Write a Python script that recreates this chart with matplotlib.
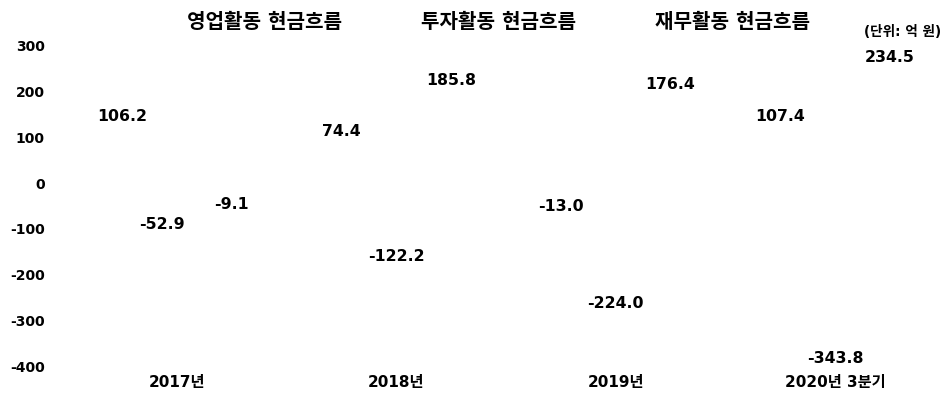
import numpy as np
import matplotlib
matplotlib.use('Agg')
import matplotlib.pyplot as plt

# DejaVu for digits (Verdana-like), Noto CJK for the Hangul
plt.rcParams['font.family'] = ['DejaVu Sans', 'Noto Sans CJK KR']
plt.rcParams['font.weight'] = 'bold'

# data (unit: 억 원)
categories = ['2017년', '2018년', '2019년', '2020년 3분기']
series_names = ['영업활동 현금흐름', '투자활동 현금흐름', '재무활동 현금흐름']
operating = [106.2, 74.4, -13.0, 107.4]
investing = [-52.9, -122.2, -224.0, -343.8]
financing = [-9.1, 185.8, 176.4, 234.5]
yticks = [300, 200, 100, 0, -100, -200, -300, -400]

fig = plt.figure(figsize=(9.49, 4.04), dpi=100)
ax = fig.add_axes([0.0706, 0.0916, 0.925, 0.797])

x = np.arange(len(categories))
w = 0.25
for i, vals in enumerate([operating, investing, financing]):
    b = ax.bar(x + (i - 1) * w, vals, w, color='white', label=series_names[i])
    anns = ax.bar_label(b, labels=[f'{v:.1f}' for v in vals], padding=7,
                        fontsize=11.3, fontweight='bold')
    if i == 1:
        # the first investing label sits a bit left of its bar in the original
        ox, oy = anns[0].xyann
        anns[0].xyann = (ox - 11, oy)

ax.set_xlim(-0.5, 3.5)
ax.set_ylim(-400, 300)
ax.set_yticks(yticks)
ax.set_yticklabels([str(t) for t in yticks])
ax.set_xticks(x)
ax.set_xticklabels(categories)
ax.tick_params(axis='both', length=0)
ax.tick_params(axis='y', pad=16, labelsize=10)
ax.tick_params(axis='x', pad=6, labelsize=11)
for s in ax.spines.values():
    s.set_visible(False)

ax.legend(loc='center', bbox_to_anchor=(0.473, 1.069), ncol=3, frameon=False,
          fontsize=14.5, handlelength=0.8, handletextpad=0.8, columnspacing=2.33)
fig.text(0.992, 0.92, '(단위: 억 원)', ha='right', va='center', fontsize=9.8,
         fontweight='bold')

fig.savefig('out.png', dpi=100)
